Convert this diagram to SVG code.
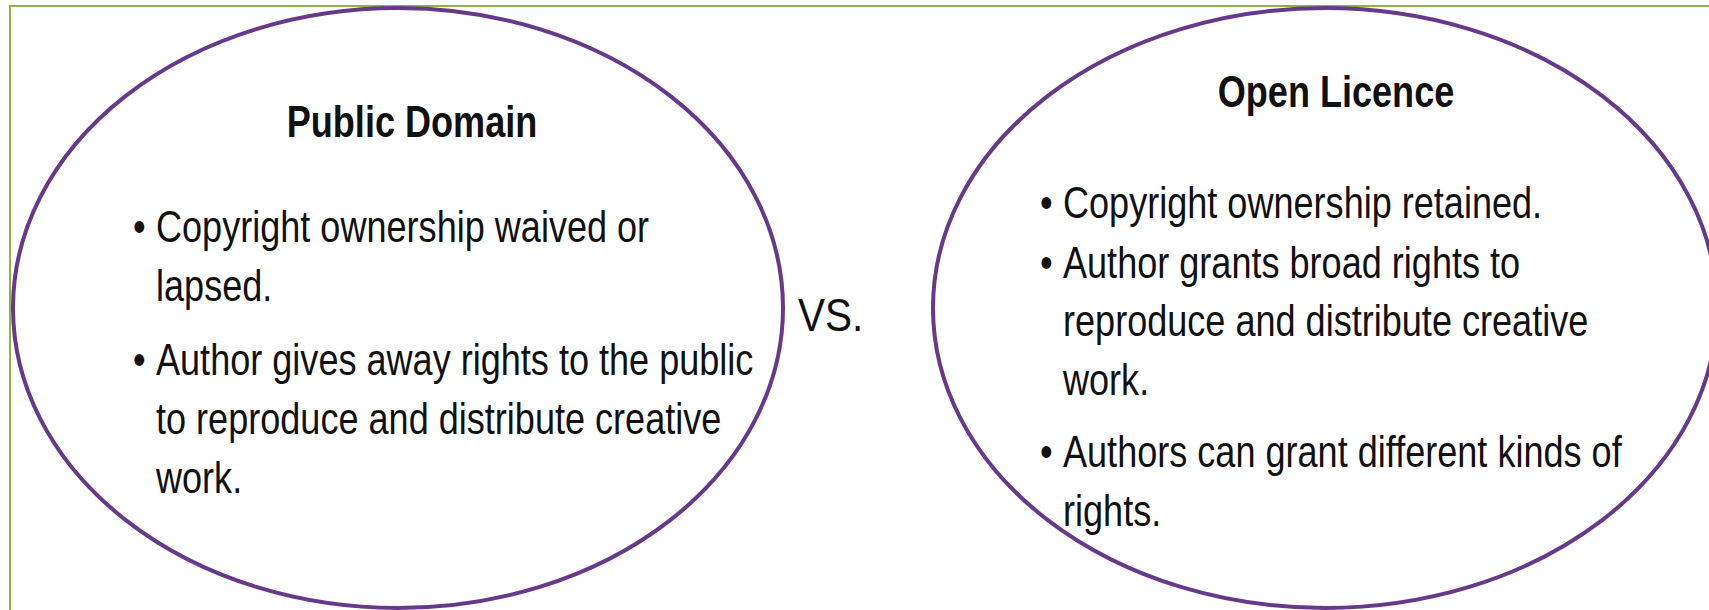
<svg xmlns="http://www.w3.org/2000/svg" width="1709" height="610" viewBox="0 0 1709 610">
<style>
.frame{fill:none;stroke:#8fb43c;stroke-width:2}
.oval{fill:#ffffff;stroke:#66398a;stroke-width:4}
.t{font-family:"Liberation Sans",Arial,Helvetica,sans-serif;fill:#111111}
.title{font-size:44px;font-weight:bold}
.body{font-size:44px}
</style>
<rect x="0" y="0" width="1709" height="610" fill="#ffffff"/>
<path class="frame" d="M10,612 V6 H1711"/>
<g id="public-domain">
<ellipse class="oval" cx="398" cy="308" rx="385" ry="300"/>
<text class="t title" text-anchor="middle" transform="translate(412 137) scale(0.82 1)">Public Domain</text>
<g class="t body" transform="translate(156 0) scale(0.82 1)">
<text x="-28" y="242">•</text>
<text x="0" y="242">Copyright ownership waived or</text>
<text x="0" y="301">lapsed.</text>
<text x="-28" y="375">•</text>
<text x="0" y="375">Author gives away rights to the public</text>
<text x="0" y="434">to reproduce and distribute creative</text>
<text x="0" y="493">work.</text>
</g>
</g>
<g id="vs">
<text class="t" font-size="46" transform="translate(798 331) scale(0.88 1)">VS.</text>
</g>
<g id="open-licence">
<ellipse class="oval" cx="1325" cy="308" rx="392" ry="300"/>
<text class="t title" text-anchor="middle" transform="translate(1336 107) scale(0.82 1)">Open Licence</text>
<g class="t body" transform="translate(1063 0) scale(0.82 1)">
<text x="-28" y="218">•</text>
<text x="0" y="218">Copyright ownership retained.</text>
<text x="-28" y="278">•</text>
<text x="0" y="278">Author grants broad rights to</text>
<text x="0" y="336">reproduce and distribute creative</text>
<text x="0" y="395">work.</text>
<text x="-28" y="467">•</text>
<text x="0" y="467">Authors can grant different kinds of</text>
<text x="0" y="526">rights.</text>
</g>
</g>
<g id="connectors"></g>
</svg>
